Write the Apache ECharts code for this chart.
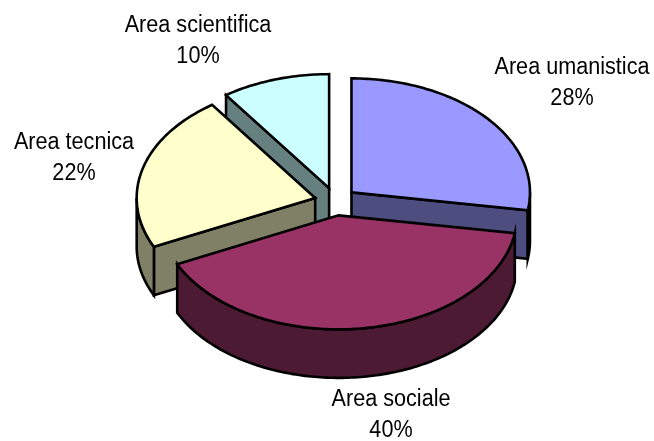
<!DOCTYPE html>
<html><head><meta charset="utf-8">
<style>html,body{margin:0;padding:0;background:#fff}#c{width:654px;height:441px}</style>
<script src="https://cdn.jsdelivr.net/npm/echarts@6/dist/echarts.min.js"></script>
</head><body><div id="c"></div>
<script>
const categories = ['Area umanistica','Area sociale','Area tecnica','Area scientifica'];
const percents = [27.5,40.45,22.25,9.8];
const topColors = ['#9999FF','#993366','#FFFFCC','#CCFFFF'];
const sideColors = ['#4D4D80','#4D1A33','#808066','#668080'];
const paintOrder = [3,2,0,1];
const labelCenters = [[572,68],[391,400],[74,143],[198,26]];

const CX=335.5, CY=201.5, RX=178.5, RY=114, DEPTH=48.5, EX=21, EY=14;
const LINE=31, FONT='23.5px "Liberation Sans", Arial, sans-serif', TEXT_SCALE=0.92;
const total = percents.reduce((a,b)=>a+b,0);
const rad = d => d*Math.PI/180;

function renderItem(params, api){
  const i = params.dataIndex;
  let before = 0;
  for(let k=0;k<i;k++) before += percents[k];
  const a0 = before/total*360, a1 = (before+api.value(0))/total*360, mid=(a0+a1)/2;
  const ox = CX+EX*Math.sin(rad(mid)), oy = CY-EY*Math.cos(rad(mid));
  const pt = (deg,d=0)=>[ox+RX*Math.sin(rad(deg)), oy-RY*Math.cos(rad(deg))+d];
  const arc = (s,e,d=0)=>{const r=[],n=Math.max(2,Math.ceil((e-s)));for(let j=0;j<=n;j++)r.push(pt(s+(e-s)*j/n,d));return r;};
  const base = (paintOrder.indexOf(i)+1)*10;
  const stroke = {stroke:'#000',lineWidth:2.6,lineJoin:'miter'};
  const kids = [];
  const poly=(pts,fill,z)=>kids.push({type:'polygon',shape:{points:pts},style:Object.assign({fill},stroke),z2:base+z,silent:true});
  const wall=a=>poly([[ox,oy],pt(a),pt(a,DEPTH),[ox,oy+DEPTH]],sideColors[i],1);
  if(Math.sin(rad(a0))<-1e-6) wall(a0);
  if(Math.sin(rad(a1))>1e-6) wall(a1);
  const ws=Math.max(a0,90), we=Math.min(a1,270);
  if(we>ws) poly(arc(ws,we).concat(arc(ws,we,DEPTH).reverse()),sideColors[i],2);
  poly([[ox,oy]].concat(arc(a0,a1)),topColors[i],3);
  const lc = labelCenters[i];
  [categories[i], Math.round(api.value(0))+'%'].forEach((t,k)=>kids.push({type:'text',x:lc[0],y:lc[1]+k*LINE,scaleX:TEXT_SCALE,z2:100,silent:true,
    style:{text:t,fill:'#000',font:FONT,textAlign:'center',textVerticalAlign:'middle'}}));
  return {type:'group',children:kids};
}
const chart = echarts.init(document.getElementById('c'),null,{renderer:'canvas'});
chart.setOption({animation:false,backgroundColor:'#fff',
  series:[{type:'custom',coordinateSystem:'none',renderItem,silent:true,
    data:percents.map((v,i)=>({name:categories[i],value:[v]}))}]});
</script></body></html>
